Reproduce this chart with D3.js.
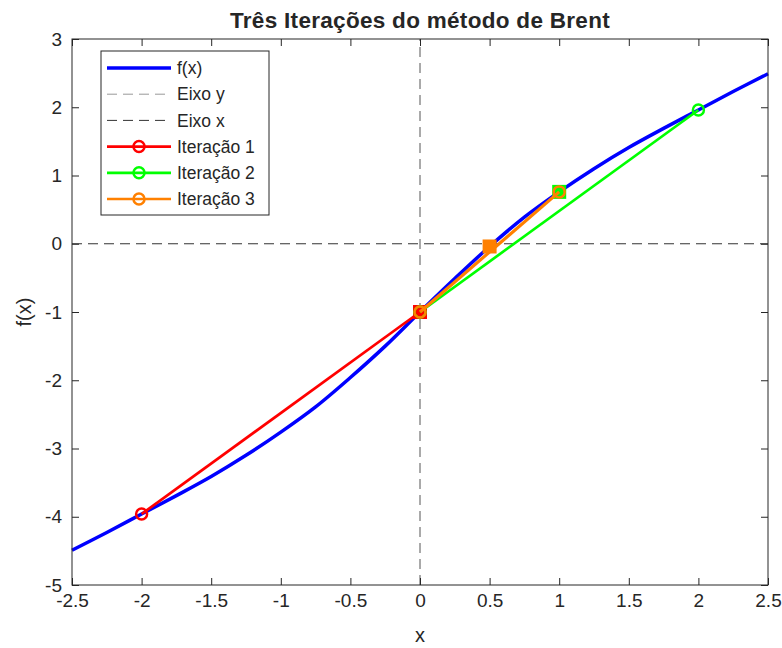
<!DOCTYPE html>
<html>
<head>
<meta charset="utf-8">
<script src="https://cdn.jsdelivr.net/npm/d3@7"></script>
<style>
  body { margin: 0; background: #fff; }
  svg text { font-family: "Liberation Sans", Arial, Helvetica, sans-serif; fill: #262626; }
</style>
</head>
<body>
<svg id="chart" width="782" height="648"></svg>
<script>
// curve f(x)
var curve_x = [-2.5, -2.25, -2, -1.75, -1.5, -1.25, -1, -0.75, -0.5, -0.25, 0,
               0.25, 0.5, 0.75, 1, 1.25, 1.5, 1.75, 2, 2.25, 2.5];
var curve_y = [-4.49, -4.23, -3.96, -3.69, -3.41, -3.10, -2.76, -2.39, -1.96, -1.50, -1.0,
               -0.51, -0.04, 0.39, 0.76, 1.10, 1.41, 1.69, 1.96, 2.23, 2.49];

// each iteration: secant ends (circles) and the new point (square)
var iter_names = ["Iteração 1", "Iteração 2", "Iteração 3"];
var iter_colors = ["#ff0000", "#00ff00", "#ff8000"];
var iter_ends = [
  [[-2, -3.96], [0, -1.0]],
  [[0, -1.0], [2, 1.96]],
  [[0, -1.0], [1, 0.76]]
];
var iter_new = [[0, -1.0], [1, 0.76], [0.5, -0.04]];

var x_ticks = [-2.5, -2, -1.5, -1, -0.5, 0, 0.5, 1, 1.5, 2, 2.5];
var y_ticks = [-5, -4, -3, -2, -1, 0, 1, 2, 3];

var svg = d3.select("#chart"),
    margin = {left: 72, right: 14, top: 39, bottom: 63},
    W = 782, H = 648;

var x = d3.scaleLinear().domain([-2.5, 2.5]).range([margin.left, W - margin.right]);
var y = d3.scaleLinear().domain([-5, 3]).range([H - margin.bottom, margin.top]);

var plot = svg.append("g");

// axes lines (eixo y / eixo x)
plot.append("line")
  .attr("x1", x(0)).attr("x2", x(0)).attr("y1", y(-5)).attr("y2", y(3))
  .attr("stroke", "#555").attr("stroke-width", 1).attr("stroke-dasharray", "10,6");
plot.append("line")
  .attr("x1", x(-2.5)).attr("x2", x(2.5)).attr("y1", y(0)).attr("y2", y(0))
  .attr("stroke", "#333").attr("stroke-width", 1).attr("stroke-dasharray", "10,6");

// f(x)
var pts = curve_x.map((d, i) => [d, curve_y[i]]);
plot.append("path")
  .datum(pts)
  .attr("fill", "none")
  .attr("stroke", "#0000ff")
  .attr("stroke-width", 3.5)
  .attr("d", d3.line().x(d => x(d[0])).y(d => y(d[1])).curve(d3.curveCatmullRom));

// iterations
iter_ends.forEach(function(ends, i) {
  var c = iter_colors[i];
  var g = plot.append("g");
  g.append("rect")
    .attr("x", x(iter_new[i][0]) - 7).attr("y", y(iter_new[i][1]) - 7)
    .attr("width", 14).attr("height", 14)
    .attr("fill", c);
  g.append("line")
    .attr("x1", x(ends[0][0])).attr("y1", y(ends[0][1]))
    .attr("x2", x(ends[1][0])).attr("y2", y(ends[1][1]))
    .attr("stroke", c).attr("stroke-width", i == 2 ? 3.2 : 2.7);
  g.selectAll("circle")
    .data(ends)
    .enter()
    .append("circle")
    .attr("cx", d => x(d[0])).attr("cy", d => y(d[1]))
    .attr("r", 5.5)
    .attr("fill", "none")
    .attr("stroke", c).attr("stroke-width", 2.5);
});

// box + ticks
var axisColor = "#262626";
svg.append("rect")
  .attr("x", x(-2.5)).attr("y", y(3))
  .attr("width", x(2.5) - x(-2.5)).attr("height", y(-5) - y(3))
  .attr("fill", "none").attr("stroke", axisColor).attr("stroke-width", 1);

var xb = svg.append("g").attr("transform", `translate(0,${y(-5)})`)
  .call(d3.axisBottom(x).tickValues(x_ticks).tickSizeInner(-7).tickSizeOuter(0).tickPadding(9)
        .tickFormat(d3.format("")));
var xt = svg.append("g").attr("transform", `translate(0,${y(3)})`)
  .call(d3.axisTop(x).tickValues(x_ticks).tickSizeInner(-7).tickSizeOuter(0).tickFormat(""));
var yl = svg.append("g").attr("transform", `translate(${x(-2.5)},0)`)
  .call(d3.axisLeft(y).tickValues(y_ticks).tickSizeInner(-7).tickSizeOuter(0).tickPadding(10)
        .tickFormat(d3.format("")));
var yr = svg.append("g").attr("transform", `translate(${x(2.5)},0)`)
  .call(d3.axisRight(y).tickValues(y_ticks).tickSizeInner(-7).tickSizeOuter(0).tickFormat(""));

[xb, xt, yl, yr].forEach(function(a) {
  a.select(".domain").remove();
  a.selectAll(".tick line").attr("stroke", axisColor);
  a.selectAll("text").style("font-size", "19px").attr("fill", axisColor);
});
// minus sign as plain hyphen like the reference
svg.selectAll(".tick text").text(function() { return d3.select(this).text().replace("−", "-"); });

// title and labels
svg.append("text")
  .attr("x", (x(-2.5) + x(2.5)) / 2).attr("y", 28)
  .attr("text-anchor", "middle")
  .style("font-size", "22.5px").style("font-weight", "bold")
  .style("letter-spacing", "0.3px")
  .attr("fill", "#000")
  .text("Três Iterações do método de Brent");

svg.append("text")
  .attr("x", (x(-2.5) + x(2.5)) / 2).attr("y", 642)
  .attr("text-anchor", "middle")
  .style("font-size", "20px")
  .text("x");

svg.append("text")
  .attr("transform", `translate(31,${(y(-5) + y(3)) / 2}) rotate(-90)`)
  .attr("text-anchor", "middle")
  .style("font-size", "20px")
  .text("f(x)");

// legend
var legend_items = [
  {name: "f(x)", color: "#0000ff", width: 3.5, dash: null, marker: false},
  {name: "Eixo y", color: "#999", width: 1, dash: "10,6", marker: false},
  {name: "Eixo x", color: "#333", width: 1, dash: "10,6", marker: false}
].concat(iter_names.map((n, i) => ({name: n, color: iter_colors[i], width: 2.7, dash: null, marker: true})));

var lg = svg.append("g").attr("transform", "translate(101,51)");
lg.append("rect")
  .attr("width", 168).attr("height", 164)
  .attr("fill", "#fff").attr("stroke", axisColor).attr("stroke-width", 1);

var rows = lg.selectAll(".row")
  .data(legend_items)
  .enter()
  .append("g")
  .attr("class", "row")
  .attr("transform", (d, i) => `translate(0,${17 + i * 26.2})`);

rows.append("line")
  .attr("x1", 6).attr("x2", 70).attr("y1", 0).attr("y2", 0)
  .attr("stroke", d => d.color).attr("stroke-width", d => d.width)
  .attr("stroke-dasharray", d => d.dash);
rows.filter(d => d.marker).append("circle")
  .attr("cx", 38).attr("cy", 0).attr("r", 5.5)
  .attr("fill", "none").attr("stroke", d => d.color).attr("stroke-width", 2.5);
rows.append("text")
  .attr("x", 76).attr("y", 0).attr("dy", "0.35em")
  .style("font-size", "17.5px").attr("fill", "#000")
  .text(d => d.name);
</script>
</body>
</html>
